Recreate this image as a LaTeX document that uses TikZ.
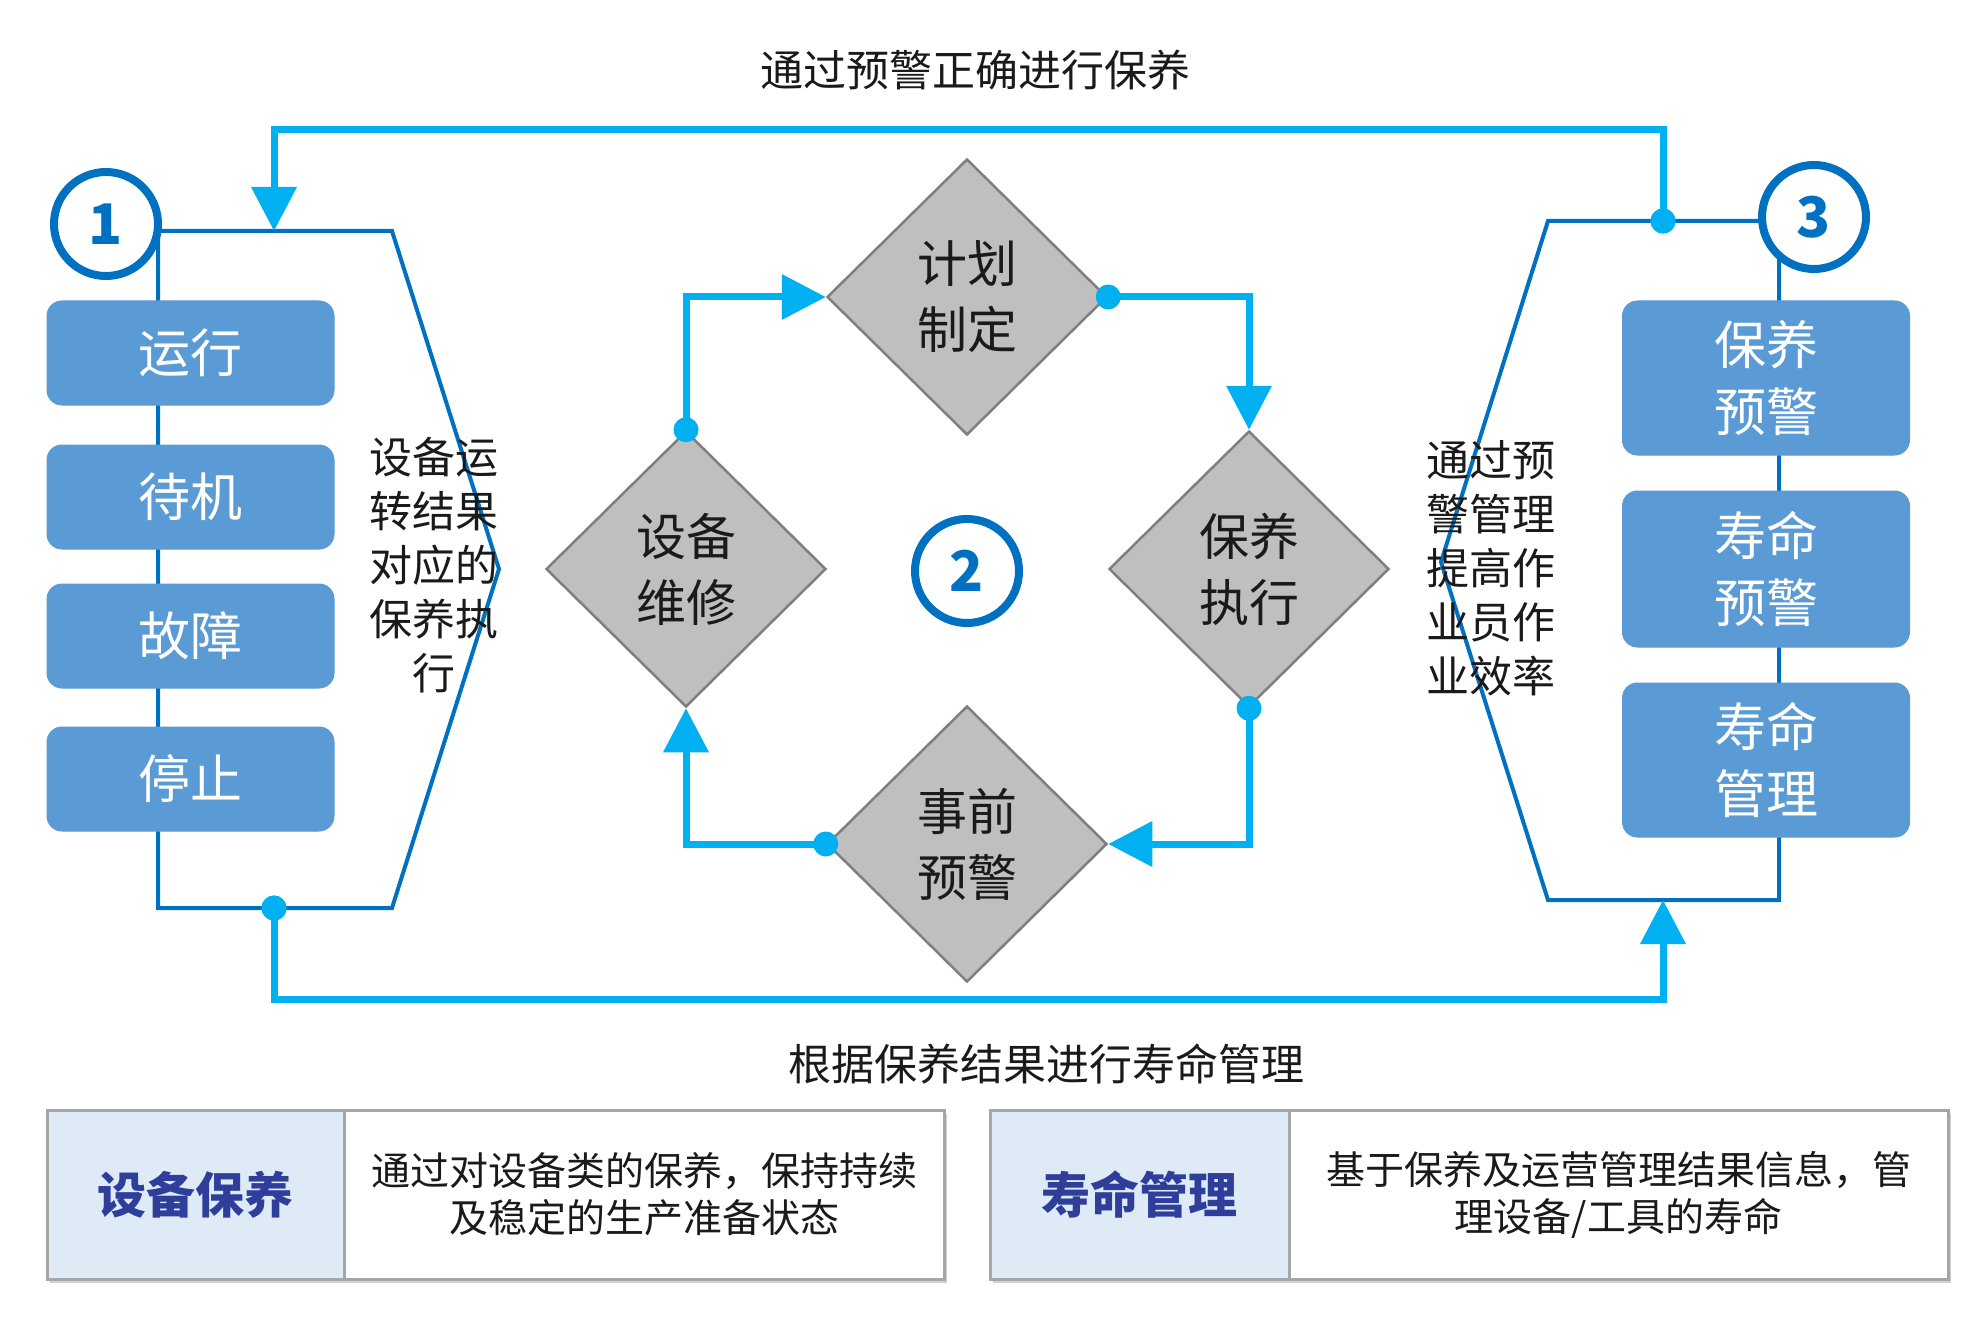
\documentclass[tikz,border=0pt]{standalone}
\usepackage{fontspec}
\setmainfont{Noto Sans CJK SC}
\usetikzlibrary{shapes.geometric,arrows.meta}
\definecolor{cyanline}{HTML}{00B0F0}
\definecolor{darkline}{HTML}{0070C0}
\definecolor{boxblue}{HTML}{5B9BD5}
\definecolor{diagrey}{HTML}{BFBFBF}
\definecolor{diaborder}{HTML}{7F7F7F}
\definecolor{hdrfill}{HTML}{DEEBF7}
\definecolor{hdrtext}{HTML}{2E3E9A}
\definecolor{tblborder}{HTML}{A6A6A6}
\definecolor{txt}{HTML}{1A1A1A}
\newcommand{\myfs}[2]{\fontsize{#1}{#2}\selectfont}
\begin{document}
\begin{tikzpicture}[x=1pt,y=-1pt,
  stbox/.style={rectangle, rounded corners=15pt, fill=boxblue, draw=boxblue, line width=1pt,
    minimum width=287pt, text=white, align=center, font=\myfs{52}{67}, inner sep=0pt},
  dia/.style={diamond, fill=diagrey, draw=diaborder, line width=2.5pt, minimum width=280pt,
    minimum height=276pt, inner sep=0pt, align=center, font=\myfs{50}{66}, text=txt},
  numc/.style={circle, draw=darkline, line width=8pt, fill=white, minimum size=104pt,
    inner sep=0pt, text=darkline, font=\myfs{56}{56}\bfseries},
  cy/.style={draw=cyanline, line width=7pt},
  cyarr/.style={cy, -{Triangle[length=44pt,width=44pt]}},
  dot/.style={circle, fill=cyanline, minimum size=25pt, inner sep=0pt},
  brk/.style={draw=darkline, line width=4pt, line join=miter},
  label/.style={font=\myfs{43}{54}, text=txt, align=center, inner sep=0pt},
  thdr/.style={rectangle, fill=hdrfill, draw=tblborder, line width=3pt, minimum height=169pt,
    inner sep=0pt, text=hdrtext, font=\myfs{49}{49}\bfseries},
  tbody/.style={rectangle, fill=white, draw=tblborder, line width=3pt, minimum height=169pt,
    inner sep=0pt, text=txt, align=center, font=\myfs{39}{47}},
]
\useasboundingbox[fill=white] (0,0) rectangle (1982,1332);

% ---------- left bracket ----------
\coordinate (L1) at (158,231);
\coordinate (L2) at (392,231);
\coordinate (L3) at (499,569);
\coordinate (L4) at (392,908);
\coordinate (L5) at (158,908);
\draw[brk] (L1) -- (L2) -- (L3) -- (L4) -- (L5) -- cycle;
\node[numc] (c1) at (106,224) {1};

\node[stbox, minimum height=104pt] (b1) at (190.5,353) {运行};
\node[stbox, minimum height=104pt] (b2) at (190.5,497) {待机};
\node[stbox, minimum height=104pt] (b3) at (190.5,636) {故障};
\node[stbox, minimum height=104pt] (b4) at (190.5,779) {停止};

\node[label] (ltxt) at (434,565) {设备运\\转结果\\对应的\\保养执\\行};

% ---------- right bracket ----------
\coordinate (R1) at (1779,221);
\coordinate (R2) at (1548,221);
\coordinate (R3) at (1441,562);
\coordinate (R4) at (1548,900);
\coordinate (R5) at (1779,900);
\draw[brk] (R1) -- (R2) -- (R3) -- (R4) -- (R5) -- cycle;
\node[numc] (c3) at (1814,217) {3};

\node[stbox, minimum height=154pt] (r1) at (1766,378) {保养\\预警};
\node[stbox, minimum height=156pt] (r2) at (1766,569) {寿命\\预警};
\node[stbox, minimum height=154pt] (r3) at (1766,760) {寿命\\管理};

\node[label, align=left] (rtxt) at (1491,568) {通过预\\警管理\\提高作\\业员作\\业效率};

% ---------- outer loop ----------
\node[label] (toplbl) at (975,70) {通过预警正确进行保养};
\node[label] (botlbl) at (1046,1064) {根据保养结果进行寿命管理};

\coordinate (ltop) at (274,231);
\coordinate (rbot) at (1663,900);
\node[dot] (tdot) at (1663,221) {};
\node[dot] (bdot) at (274,908) {};
\draw[cyarr] (tdot.center) -- (tdot.center |- 0,130) -| (ltop);
\draw[cyarr] (bdot.center) -- (bdot.center |- 0,999) -| (rbot);
\node[dot] at (tdot.center) {};
\node[dot] at (bdot.center) {};

% ---------- center cycle ----------
\node[dia] (djh) at (967,297) {计划\\制定};
\node[dia] (dbz) at (1249,569) {保养\\执行};
\node[dia] (dsb) at (686,569) {设备\\维修};
\node[dia] (dsq) at (967,844) {事前\\预警};
\node[numc] (c2) at (967,571) {2};

\draw[cyarr] (dsb.north) |- (djh.west);
\draw[cyarr] (djh.east) -| (dbz.north);
\draw[cyarr] (dbz.south) |- (dsq.east);
\draw[cyarr] (dsq.west) -| (dsb.south);
\node[dot] (p1) at (dsb.north) {};
\node[dot] (p2) at (djh.east) {};
\node[dot] (p3) at (dbz.south) {};
\node[dot] (p4) at (dsq.west) {};

% ---------- tables ----------
\fill[black!18] (50,1114) rectangle (947,1283);
\node[thdr, minimum width=297pt] (th1) at (195.5,1194.5) {设备保养};
\node[tbody, minimum width=600pt] (tb1) at (644,1194.5) {通过对设备类的保养，保持持续\\及稳定的生产准备状态};

\fill[black!18] (993,1114) rectangle (1951,1283);
\node[thdr, minimum width=299pt] (th2) at (1139.5,1194.5) {寿命管理};
\node[tbody, minimum width=659pt] (tb2) at (1618.5,1194.5) {基于保养及运营管理结果信息，管\\理设备/工具的寿命};
\end{tikzpicture}
\end{document}
